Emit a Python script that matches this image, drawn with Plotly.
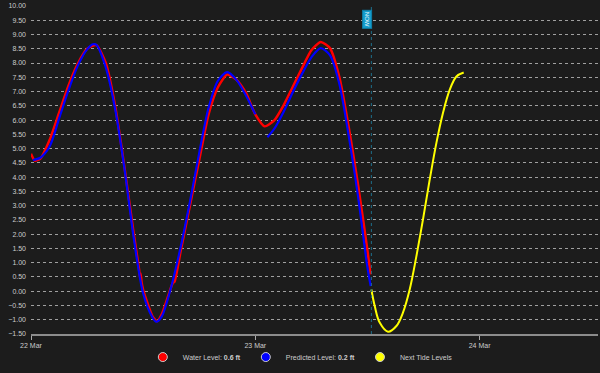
import pandas as pd
import plotly.graph_objects as go

# ---- data (hours after 22 Mar 00:00) ----
base_day = "2024-03-22"

obs_hours = [0, 0.4, 1, 2, 3, 4, 5, 6, 7, 8, 9, 10, 11, 11.55, 11.68, 11.73, 11.84, 12, 13, 13.5,
             14, 15, 15.2, 15.35, 16, 17, 18, 19, 20, 21, 22, 23, 24, 25, 26, 27, 28, 29, 30,
             31, 32, 33, 34, 35, 36, 36.33]
obs_level = [4.82, 4.58, 4.65, 5.31, 6.25, 7.2, 7.97, 8.5, 8.63, 8.0, 6.5, 4.35, 2.0, 0.8, 0.45,
             0.62, 0.3, 0.05, -0.88, -1.05, -0.8, 0.15, 0.3, 0.33, 1.38, 3.0, 4.6, 6.2, 7.15,
             7.6, 7.41, 6.95, 6.2, 5.78, 5.98, 6.5, 7.16, 7.82, 8.45, 8.74, 8.52, 7.5, 5.75,
             3.72, 1.43, 0.59]

pred_hours = [0.2, 1, 2, 3, 4, 5, 6, 6.63, 7, 8, 9, 10, 11, 12, 13, 13.4, 14, 15, 16, 17, 18,
              19, 20, 21, 22, 23, 24, None, 25.3, 26, 27, 28, 29, 30, 31, 32, 33, 34, 35, 36,
              36.35]
pred_level = [4.6, 4.68, 5.08, 6.05, 7.04, 7.9, 8.48, 8.66, 8.64, 7.85, 6.4, 4.3, 1.85, -0.08,
              -0.92, -1.07, -0.88, 0.15, 1.53, 3.13, 4.85, 6.43, 7.38, 7.68, 7.4, 6.86, 6.2,
              None, 5.4, 5.68, 6.27, 6.97, 7.62, 8.2, 8.52, 8.27, 7.26, 5.44, 3.31, 0.83, 0.18]

next_hours = [36.42, 36.78, 37.31, 38.2, 39.1, 39.8, 40.52, 41.24, 41.94, 42.66, 43.38, 44.08,
              44.8, 45.52, 46.3]
next_level = [0.06, -0.52, -1.1, -1.42, -1.22, -0.75, 0.06, 1.23, 2.51, 3.91, 5.2, 6.25, 7.06,
              7.53, 7.67]

now_hour = 36.42
x_end_hour = 60.67

water_label = "Water Level: <b>0.6 ft</b>"
pred_label = "Predicted Level: <b>0.2 ft</b>"
next_label = "Next Tide Levels"

y_ticks = [i * 0.5 - 1.5 for i in range(24)]

base = pd.Timestamp(base_day)


def to_time(hours):
    return [None if h is None else base + pd.Timedelta(hours=h) for h in hours]


BG = "#1c1c1c"
FONT = "Liberation Sans"

fig = go.Figure()

fig.add_trace(go.Scatter(x=to_time(obs_hours), y=obs_level, mode="lines",
                         line=dict(color="#ff0000", width=2.5, shape="spline", smoothing=0.6),
                         showlegend=False, hoverinfo="skip"))
fig.add_trace(go.Scatter(x=to_time(pred_hours), y=pred_level, mode="lines",
                         line=dict(color="#0000ff", width=2.2, shape="spline", smoothing=0.8),
                         connectgaps=False, showlegend=False, hoverinfo="skip"))
fig.add_trace(go.Scatter(x=to_time(next_hours), y=next_level, mode="lines",
                         line=dict(color="#ffff00", width=2, shape="spline", smoothing=1),
                         showlegend=False, hoverinfo="skip"))

# legend entries
for name, col in [(water_label, "#ff0000"), (pred_label, "#0000ff"), (next_label, "#ffff00")]:
    fig.add_trace(go.Scatter(x=[None], y=[None], mode="markers", name=name,
                             marker=dict(color=col, size=9, line=dict(color="#cccccc", width=1))))

now_t = base + pd.Timedelta(hours=now_hour)
fig.add_shape(type="line", xref="x", yref="paper", x0=now_t, x1=now_t, y0=0, y1=1,
              line=dict(color="#1f6f8a", width=1, dash="dot"))
fig.add_annotation(x=base + pd.Timedelta(hours=now_hour - 0.45), y=0.9605, xref="x", yref="paper",
                   text="NOW", textangle=90, showarrow=False, xanchor="center", yanchor="middle",
                   bgcolor="#149ccc", bordercolor="#0e7fa8", borderwidth=1, borderpad=1,
                   font=dict(family=FONT, size=6, color="#e8f6fb"))

fig.update_layout(
    width=600, height=373,
    margin=dict(l=31, r=2, t=6, b=38),
    paper_bgcolor=BG, plot_bgcolor=BG,
    font=dict(family=FONT, size=7, color="#cccccc"),
    showlegend=True,
    legend=dict(orientation="h", x=0.475, xanchor="center", y=-0.067, yanchor="middle",
                bgcolor="rgba(0,0,0,0)", font=dict(family=FONT, size=7, color="#cccccc"),
                itemwidth=30, tracegroupgap=0),
    xaxis=dict(type="date", range=[base, base + pd.Timedelta(hours=x_end_hour)],
               tick0=base, dtick=86400000, tickformat="%d %b", showgrid=False,
               showline=True, linecolor="#8c8c8c", linewidth=2,
               ticks="outside", ticklen=4, tickcolor="#aaaaaa", tickwidth=1,
               tickfont=dict(family=FONT, size=7, color="#cccccc"), zeroline=False),
    yaxis=dict(range=[-1.5, 10], tickvals=y_ticks, tickformat=".2f",
               showgrid=True, gridcolor="#a0a0a0", gridwidth=1, griddash="dot",
               zeroline=False, showline=False, ticks="", ticklabelstandoff=4,
               tickfont=dict(family=FONT, size=7, color="#cccccc")),
)

fig.write_html("out.html")
